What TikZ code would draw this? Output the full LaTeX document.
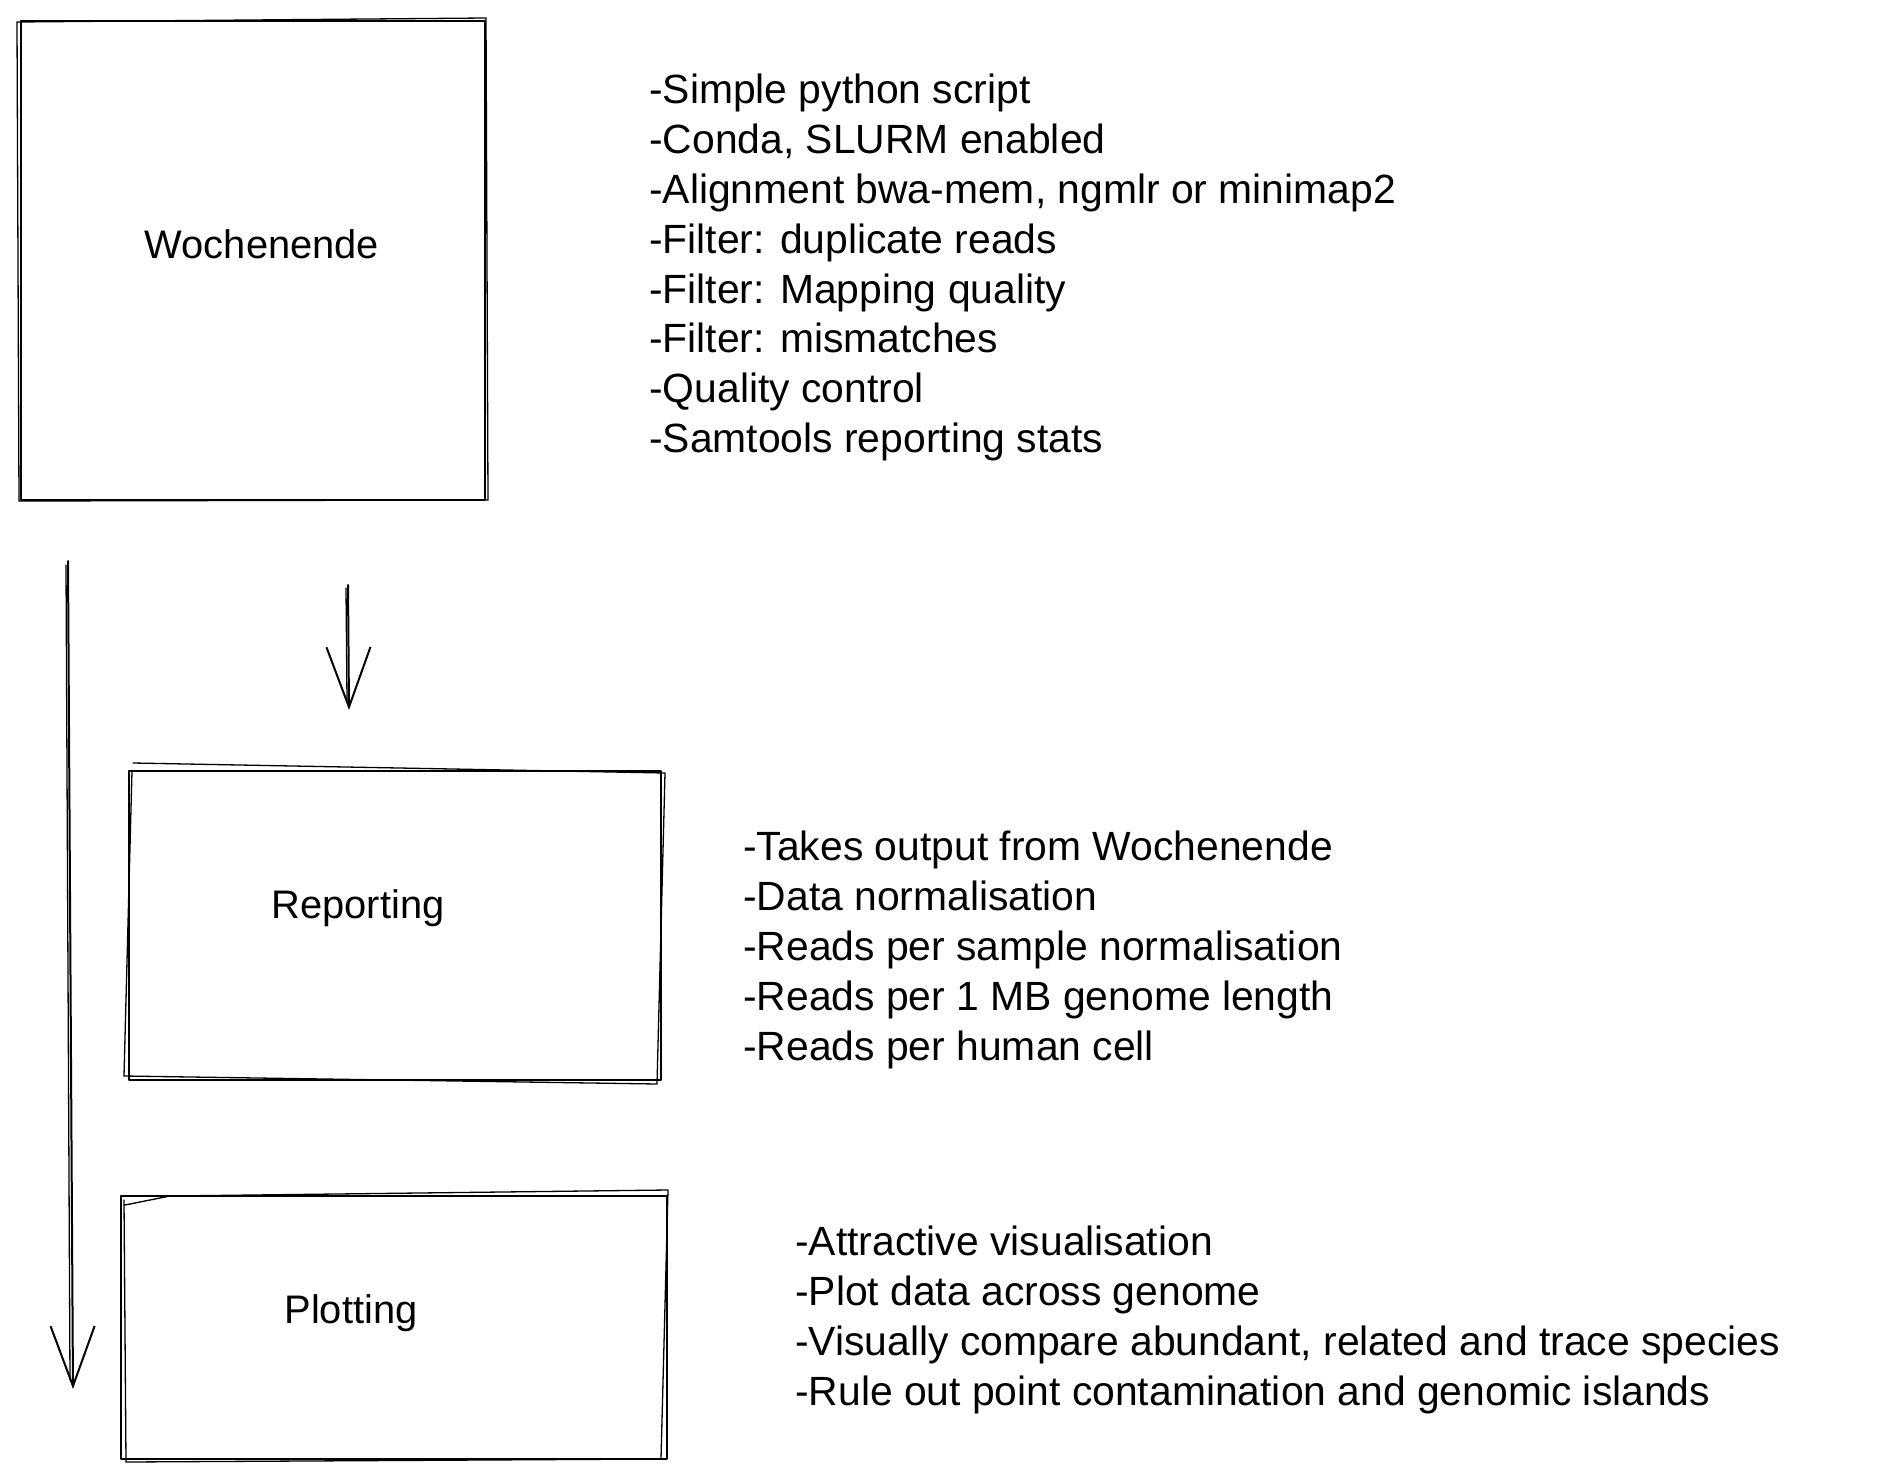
\documentclass[tikz,border=0pt]{standalone}
\usepackage{fontspec}
\setmainfont{Liberation Sans}
\usetikzlibrary{arrows.meta}
\begin{document}
\begin{tikzpicture}[x=1bp,y=-1bp,
  sketch/.style={draw=black, line width=2bp, line join=round, line cap=round},
  sketchthin/.style={draw=black, line width=1.3bp, line cap=round},
  box/.style={sketch, rectangle, inner sep=0pt, anchor=north west},
  label/.style={font=\fontsize{40}{50}\selectfont, inner sep=0pt},
  notes/.style={font=\fontsize{41}{50}\selectfont, inner sep=0pt, align=left, anchor=north west},
  flow/.style={sketch, -{Straight Barb[length=60bp,width=44bp,line width=2bp]}}
]
\useasboundingbox[fill=white] (0,0) rectangle (1884,1478);

% boxes
\node[box, minimum width=464bp, minimum height=479bp] (woch) at (20,20) {};
\node[box, minimum width=532bp, minimum height=309bp] (rep) at (128,770) {};
\node[box, minimum width=546bp, minimum height=263bp] (plot) at (120,1195) {};

% hand-drawn second strokes
\draw[sketchthin] (17,22) -- (486,18) -- (488,500) -- (19,501) -- cycle;
\draw[sketchthin] (133,763) -- (665,773) -- (657,1084) -- (124,1076) -- (132,771);
\draw[sketchthin] (125,1205) -- (170,1196) -- (668,1190) -- (661,1459) -- (126,1462) -- (124,1200);

% box labels
\node[label] (wochl) at (262,244) {Wochenende};
\node[label] (repl) at (358,908) {Reporting};
\node[label] (plotl) at (351,1313) {Plotting};

% notes
\node[notes] (n1) at (649,74) {-Simple python script\\
-Conda, SLURM enabled\\
-Alignment bwa-mem, ngmlr or minimap2\\
-Filter: duplicate reads\\
-Filter: Mapping quality\\
-Filter: mismatches\\
-Quality control\\
-Samtools reporting stats};

\node[notes] (n2) at (743,831) {-Takes output from Wochenende\\
-Data normalisation\\
-Reads per sample normalisation\\
-Reads per 1 MB genome length\\
-Reads per human cell};

\node[notes] (n3) at (795,1226) {-Attractive visualisation\\
-Plot data across genome\\
-Visually compare abundant, related and trace species\\
-Rule out point contamination and genomic islands};

% connectors
\coordinate (a1s) at (68,561);
\coordinate (a1e) at (73,1389);
\coordinate (a2s) at (348,585);
\coordinate (a2e) at (349,710);
\draw[flow] (a1s) -- (a1e);
\draw[sketchthin] (66,565) -- (70,1380);
\draw[flow] (a2s) -- (a2e);
\draw[sketchthin] (346,588) -- (347,700);
\end{tikzpicture}
\end{document}
